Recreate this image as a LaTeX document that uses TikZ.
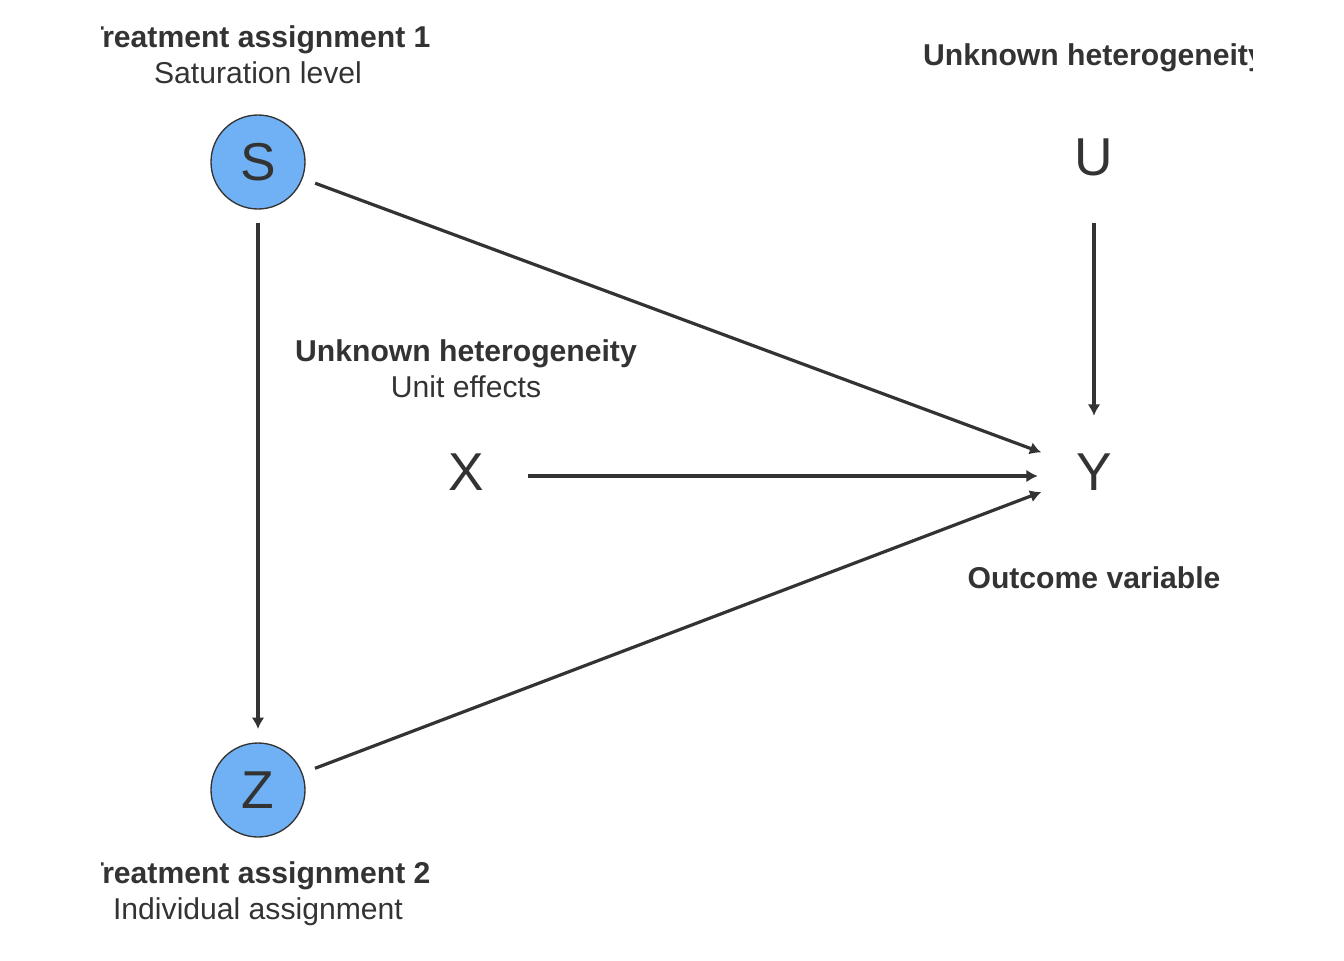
\documentclass[tikz,border=0pt]{standalone}
\usepackage{fontspec}
\setmainfont{Liberation Sans}
\usetikzlibrary{arrows.meta, positioning}
\definecolor{ink}{HTML}{333333}
\definecolor{nodeblue}{HTML}{6FB1F4}

\begin{document}
\begin{tikzpicture}[x=0.75pt, y=-0.75pt, >={Latex[length=8.5pt, width=9.5pt]},
    var/.style={circle, inner sep=0pt, text=ink, font=\fontsize{40}{44}\selectfont},
    treat/.style={var, draw=ink, line width=1pt, fill=nodeblue, minimum size=70.5pt, outer sep=10.5pt},
    lbl/.style={align=center, text=ink, inner sep=0pt, font=\fontsize{22.6}{27}\selectfont},
    link/.style={->, draw=ink, line width=2.4pt}]

        \useasboundingbox (0,0) rectangle (1344,960);

        % variables
        \node[treat] (S) at (258,162) {S};
        \node[treat] (Z) at (258,790) {Z};
        \node[var, minimum size=99pt] (U) at (1094,157) {U};
        \node[var, minimum size=93pt] (X) at (466,472) {X};
        \node[var, minimum size=84pt] (Y) at (1094,472) {Y};

        % labels, cut off at the page edges
        \begin{scope}
          \clip (101,0) rectangle (1252,960);
          \node[lbl] (Slbl) at (258,55) {\textbf{Treatment assignment 1}\\Saturation level};
          \node[lbl] (Ulbl) at (1094,58) {\textbf{Unknown heterogeneity}};
          \node[lbl] (Xlbl) at (466,368.5) {\textbf{Unknown heterogeneity}\\Unit effects};
          \node[lbl] (Ylbl) at (1094,578) {\textbf{Outcome variable}};
          \node[lbl] (Zlbl) at (258,894) {\textbf{Treatment assignment 2}\\Individual assignment};
        \end{scope}

        % edges
        \draw[link] (S) -- (Y);
        \draw[link] (S) -- (Z);
        \draw[link] (U) -- (Y);
        \draw[link] ([yshift=-3pt]X.east) -- ([yshift=-3pt]Y.west);
        \draw[link] (Z) -- (Y);

    \end{tikzpicture}
\end{document}
